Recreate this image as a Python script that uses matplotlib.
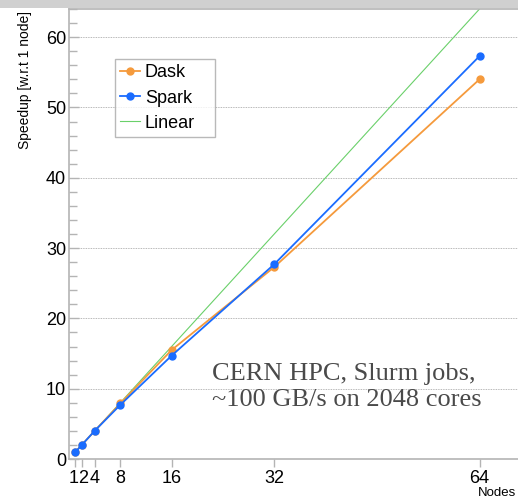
import matplotlib as mpl
import matplotlib.pyplot as plt
import matplotlib.transforms as mtrans
from matplotlib.patches import Rectangle
from matplotlib.ticker import MultipleLocator

mpl.rcParams['font.family'] = ['Liberation Sans', 'DejaVu Sans']

# data
nodes = [1, 2, 4, 8, 16, 32, 64]
dask = [1.0, 2.0, 4.0, 7.9, 15.5, 27.3, 54.0]
spark = [1.0, 2.0, 4.0, 7.7, 14.7, 27.7, 57.3]
linear = [1, 64]
yticks = [0, 10, 20, 30, 40, 50, 60]

W, H, dpi = 518, 499, 100.0
fig = plt.figure(figsize=(W / dpi, H / dpi), dpi=dpi)
fig.patch.set_facecolor('w')

# axes in pixel units, right side runs off the picture
left, bottom, top = 69, 40, 490
xmax = 70.0
ax = fig.add_axes([left / W, bottom / H, (W - left) / W, (top - bottom) / H])

axcol = '#b4b4b4'
ax.plot(linear, linear, color='#6ad06a', lw=0.8, label='Linear', zorder=2)
ax.plot(nodes, dask, color='#f59a3c', lw=1.3, marker='o', ms=5, label='Dask', zorder=3)
ax.plot(nodes, spark, color='#1a6cff', lw=1.3, marker='o', ms=5, label='Spark', zorder=4)

ax.set_xlim(0, xmax)
ax.set_ylim(0, 64)
ax.set_xticks(nodes)
ax.set_xticklabels([str(n) for n in nodes])
ax.set_yticks(yticks)
ax.yaxis.set_minor_locator(MultipleLocator(2))

for s in ['left', 'bottom', 'top']:
    ax.spines[s].set_color(axcol)
    ax.spines[s].set_linewidth(1.2)
ax.spines['right'].set_visible(False)

ax.tick_params(axis='y', which='major', direction='in', length=7, width=1, color=axcol,
               labelsize=13, pad=2)
ax.tick_params(axis='y', which='minor', direction='in', length=6, width=1, color=axcol)
ax.tick_params(axis='x', which='major', direction='out', length=6, width=1, color=axcol,
               labelsize=13, pad=2)

# the "1" and "2" labels sit almost on top of each other; push them apart a little
labs = ax.get_xticklabels()
for lab, dx in [(labs[0], -1.5), (labs[1], 1.5)]:
    lab.set_transform(lab.get_transform() + mtrans.ScaledTranslation(dx / dpi, 0, fig.dpi_scale_trans))

ax.grid(True, axis='y', which='major', color='#a0a0a0', linestyle=(0, (1, 1)), lw=0.6)
ax.set_axisbelow(True)

# legend in the same order as the picture, box stretched to 115..215 x 59..134 px
h, l = ax.get_legend_handles_labels()
order = [1, 2, 0]
leg = ax.legend([h[i] for i in order], [l[i] for i in order], loc='upper left',
                bbox_to_anchor=(115 / W, 1 - 134 / H, 100 / W, 75 / H),
                bbox_transform=fig.transFigure, mode='expand',
                fontsize=13, frameon=True, fancybox=False, edgecolor='#a8a8a8',
                handlelength=1.1, handletextpad=0.25, borderpad=0.3,
                labelspacing=0.45, borderaxespad=0)
leg.get_frame().set_linewidth(1.0)

fig.text(212 / W, 1 - 387 / H, 'CERN HPC, Slurm jobs,\n~100 GB/s on 2048 cores',
         family=['Liberation Serif', 'DejaVu Serif'], fontsize=19, color='#4a4a4a',
         ha='left', va='center', linespacing=1.22)

fig.text(25 / W, 1 - 11 / H, 'Speedup [w.r.t 1 node]', rotation=90, ha='center', va='top',
         fontsize=10)
fig.text(478 / W, 3 / H, 'Nodes', ha='left', va='baseline', fontsize=9.5)

# grey bar along the top edge of the screenshot
fig.patches.append(Rectangle((0, 1 - 8 / H), 1, 8 / H, transform=fig.transFigure,
                             facecolor='#d0d0d0', edgecolor='none', zorder=10))

fig.savefig('out.png', dpi=dpi, facecolor=fig.get_facecolor())
